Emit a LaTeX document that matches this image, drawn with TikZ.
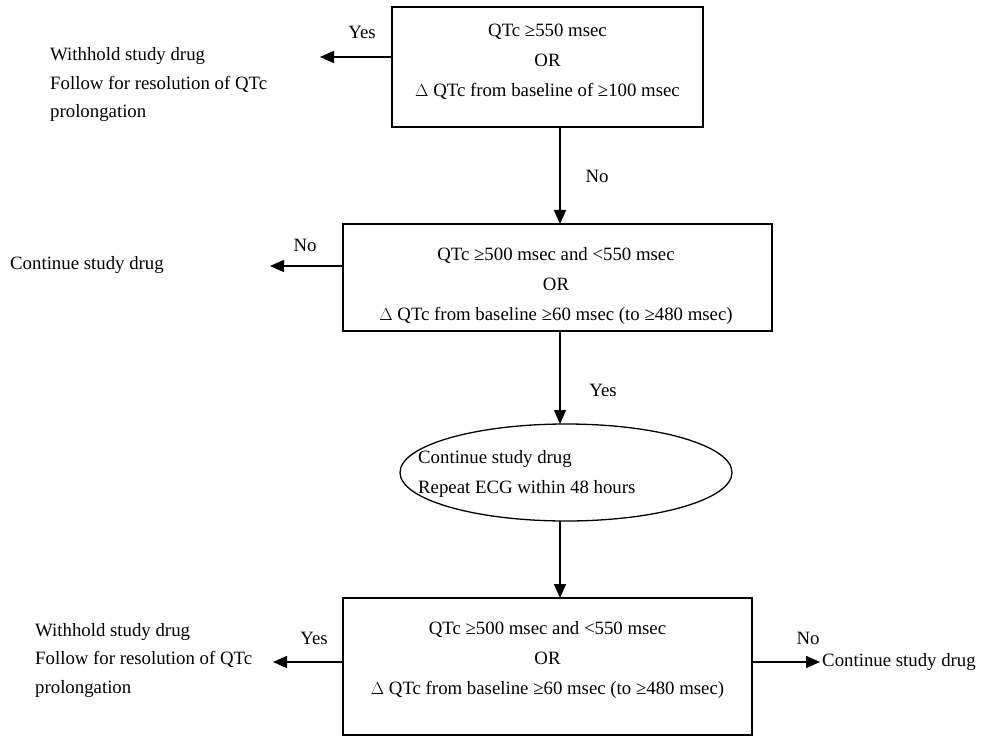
\documentclass[tikz,border=0pt]{standalone}
\usepackage{fontspec}
\setmainfont{Liberation Serif}
\usetikzlibrary{shapes.geometric,arrows.meta}
\begin{document}
\begin{tikzpicture}[x=1pt,y=-1pt,
  every node/.style={font=\fontsize{18.8}{30}\selectfont},
  boxnode/.style={draw,line width=1.5pt,rectangle,inner sep=0pt},
  ellnode/.style={draw,line width=1.3pt,ellipse,inner sep=0pt},
  txt/.style={align=center,inner sep=0pt},
  ltxt/.style={align=left,anchor=west,inner sep=0pt,font=\fontsize{18.8}{28.5}\selectfont},
  lbl/.style={inner sep=0pt},
  conn/.style={line width=1.5pt,-{Triangle[length=14pt,width=12pt]}}
]
\useasboundingbox (0,0) rectangle (984,751);

% box 1
\node[boxnode,minimum width=311pt,minimum height=120pt] (b1) at (547.5,67) {};
\node[txt] (t1) at (547.5,62) {QTc ≥550 msec\\OR\\$\Delta$ QTc from baseline of ≥100 msec};
\coordinate (b1l) at (392,57);
\coordinate (a1) at (320,57);
\draw[conn] (b1l) -- (a1);
\node[lbl] (y1) at (362,32) {Yes};
\node[ltxt] (w1) at (50,85) {Withhold study drug\\Follow for resolution of QTc\\prolongation};

% box 2
\node[boxnode,minimum width=429pt,minimum height=107pt] (b2) at (557.5,277.5) {};
\node[txt] (t2) at (556,286) {QTc ≥500 msec and <550 msec\\OR\\$\Delta$ QTc from baseline ≥60 msec (to ≥480 msec)};
\coordinate (b1b) at (560,127);
\coordinate (b2t) at (560,224);
\draw[conn] (b1b) -- (b2t);
\node[lbl] (n1) at (597,176) {No};
\coordinate (b2l) at (343,266);
\coordinate (a2) at (270,266);
\draw[conn] (b2l) -- (a2);
\node[lbl] (n2) at (305,245) {No};
\node[ltxt] (c1) at (10,265) {Continue study drug};

% ellipse
\node[ellnode,minimum width=332pt,minimum height=97pt] (e1) at (566,472.5) {};
\node[ltxt,font=\fontsize{18.8}{30}\selectfont] (et) at (418,474) {Continue study drug\\Repeat ECG within 48 hours};
\coordinate (b2b) at (560,331);
\coordinate (e1t) at (560,424);
\draw[conn] (b2b) -- (e1t);
\node[lbl] (y2) at (603,390) {Yes};

% box 3
\node[boxnode,minimum width=409pt,minimum height=137pt] (b3) at (547.5,666.5) {};
\node[txt] (t3) at (547.5,660) {QTc ≥500 msec and <550 msec\\OR\\$\Delta$ QTc from baseline ≥60 msec (to ≥480 msec)};
\coordinate (e1b) at (560,521);
\coordinate (b3t) at (560,598);
\draw[conn] (e1b) -- (b3t);
\coordinate (b3l) at (343,662);
\coordinate (a3) at (273,662);
\draw[conn] (b3l) -- (a3);
\node[lbl] (y3) at (314,638) {Yes};
\node[ltxt] (w2) at (35,660) {Withhold study drug\\Follow for resolution of QTc\\prolongation};
\coordinate (b3r) at (752,662);
\coordinate (a4) at (820,662);
\draw[conn] (b3r) -- (a4);
\node[lbl] (n3) at (808,638) {No};
\node[ltxt] (c2) at (822,662) {Continue study drug};
\end{tikzpicture}
\end{document}
